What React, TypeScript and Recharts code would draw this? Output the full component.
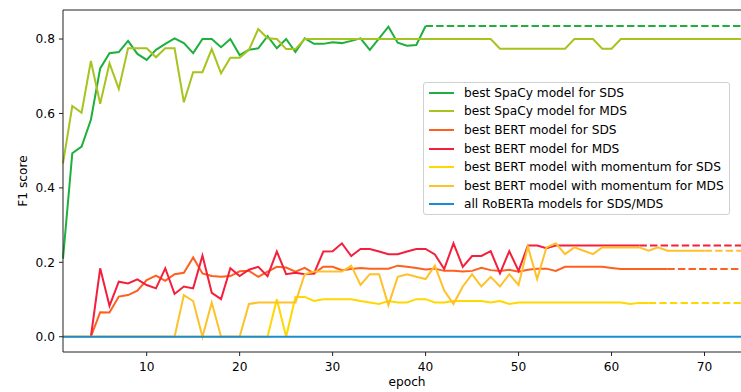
import { LineChart, Line, XAxis, YAxis, ReferenceLine, Legend, Label } from "recharts";

// epochs shown on the x axis (xlim 1..75, the figure is cropped on the right)
const epochs = Array.from({ length: 75 }, (_, i) => i + 1);
const xTicks = [10, 20, 30, 40, 50, 60, 70];
const yTicks = [0, 0.2, 0.4, 0.6, 0.8];

// F1 per epoch (index 0 = epoch 1)
const spacySds = [
  0.21, 0.493, 0.511, 0.583, 0.721, 0.762, 0.765, 0.795, 0.76, 0.744,
  0.771, 0.787, 0.802, 0.789, 0.762, 0.8, 0.8, 0.778, 0.8, 0.757,
  0.771, 0.775, 0.808, 0.775, 0.8, 0.765, 0.802, 0.787, 0.787, 0.791,
  0.789, 0.795, 0.802, 0.771, 0.802, 0.833, 0.79, 0.782, 0.784, 0.835,
];
const spacyMds = [
  0.466, 0.62, 0.602, 0.741, 0.626, 0.735, 0.666, 0.775, 0.775, 0.775,
  0.751, 0.775, 0.775, 0.63, 0.711, 0.711, 0.773, 0.708, 0.75, 0.75,
  0.771, 0.827, 0.802, 0.8, 0.773, 0.773, 0.8, 0.8, 0.8, 0.8,
  0.8, 0.8, 0.8, 0.8, 0.8, 0.8, 0.8, 0.8, 0.8, 0.8,
  0.8, 0.8, 0.8, 0.8, 0.8, 0.8, 0.8, 0.774, 0.774, 0.774,
  0.774, 0.774, 0.774, 0.774, 0.774, 0.8, 0.8, 0.8, 0.774, 0.774,
  0.8, 0.8, 0.8, 0.8, 0.8, 0.8, 0.8, 0.8, 0.8, 0.8,
  0.8, 0.8, 0.8, 0.8, 0.8,
];
const bertSds = [
  null, null, null, 0, 0.066, 0.065, 0.108, 0.112, 0.124, 0.152,
  0.164, 0.15, 0.168, 0.172, 0.213, 0.17, 0.163, 0.161, 0.163, 0.176,
  0.177, 0.161, 0.175, 0.188, 0.186, 0.175, 0.185, 0.17, 0.188, 0.188,
  0.179, 0.182, 0.185, 0.183, 0.183, 0.183, 0.191, 0.188, 0.185, 0.181,
  0.183, 0.177, 0.177, 0.175, 0.177, 0.185, 0.179, 0.177, 0.18, 0.175,
  0.18, 0.183, 0.183, 0.177, 0.188, 0.188, 0.188, 0.188, 0.188, 0.185,
  0.182, 0.182, 0.182, 0.182, 0.182, 0.182,
];
const bertMds = [
  null, null, null, 0, 0.184, 0.083, 0.148, 0.143, 0.154, 0.139,
  0.13, 0.184, 0.115, 0.135, 0.13, 0.218, 0.118, 0.101, 0.184, 0.163,
  0.18, 0.188, 0.163, 0.229, 0.168, 0.172, 0.168, 0.17, 0.229, 0.23,
  0.251, 0.217, 0.236, 0.236, 0.229, 0.222, 0.222, 0.229, 0.236, 0.236,
  0.221, 0.182, 0.251, 0.188, 0.217, 0.217, 0.23, 0.17, 0.23, 0.177,
  0.245, 0.245, 0.238, 0.245, 0.245, 0.245, 0.245, 0.245, 0.245, 0.245,
  0.245, 0.245, 0.245,
];
const momSds = [
  0, 0, 0, 0, 0, 0, 0, 0, 0, 0,
  0, 0, 0, 0, 0, 0, 0, 0, 0, 0,
  0, 0, 0, 0.101, 0, 0.107, 0.107, 0.096, 0.101, 0.101,
  0.101, 0.101, 0.096, 0.092, 0.088, 0.096, 0.092, 0.092, 0.101, 0.101,
  0.092, 0.092, 0.096, 0.096, 0.096, 0.096, 0.092, 0.096, 0.088, 0.092,
  0.092, 0.092, 0.092, 0.092, 0.092, 0.092, 0.092, 0.092, 0.092, 0.092,
  0.092, 0.088, 0.091, 0.091,
];
const momMds = [
  0, 0, 0, 0, 0, 0, 0, 0, 0, 0,
  0, 0, 0, 0.112, 0.096, 0, 0.092, 0, 0, 0,
  0.088, 0.092, 0.092, 0.092, 0.092, 0.092, 0.168, 0.175, 0.175, 0.175,
  0.175, 0.191, 0.139, 0.168, 0.168, 0.085, 0.161, 0.168, 0.161, 0.155,
  0.191, 0.124, 0.088, 0.135, 0.168, 0.135, 0.161, 0.135, 0.168, 0.139,
  0.242, 0.155, 0.24, 0.251, 0.222, 0.24, 0.231, 0.222, 0.24, 0.24,
  0.24, 0.24, 0.24, 0.231, 0.24, 0.231, 0.231, 0.231, 0.231, 0.231,
];
const roberta = [
  0, 0, 0, 0, 0, 0, 0, 0, 0, 0, 0, 0, 0, 0, 0, 0, 0, 0, 0, 0, 0, 0, 0, 0, 0,
  0, 0, 0, 0, 0, 0, 0, 0, 0, 0, 0, 0, 0, 0, 0, 0, 0, 0, 0, 0, 0, 0, 0, 0, 0,
  0, 0, 0, 0, 0, 0, 0, 0, 0, 0, 0, 0, 0, 0, 0, 0, 0, 0, 0, 0, 0, 0, 0, 0, 0,
];

const series = [
  { key: "spacySds", name: "best SpaCy model for SDS", color: "#1eaf3c", values: spacySds },
  { key: "spacyMds", name: "best SpaCy model for MDS", color: "#a6c41e", values: spacyMds },
  { key: "bertSds", name: "best BERT model for SDS", color: "#ff5f1f", values: bertSds },
  { key: "bertMds", name: "best BERT model for MDS", color: "#f41f3c", values: bertMds },
  { key: "momSds", name: "best BERT model with momentum for SDS", color: "#ffd800", values: momSds },
  { key: "momMds", name: "best BERT model with momentum for MDS", color: "#ffc12a", values: momMds },
  { key: "roberta", name: "all RoBERTa models for SDS/MDS", color: "#1a8cd6", values: roberta },
];

// one row per epoch; a run that stopped early is carried on as a dashed line
const rows = epochs.map((epoch, i) => {
  const row: any = { epoch };
  series.forEach((s) => {
    const last = s.values.length;
    row[s.key] = i < last ? s.values[i] : null;
    if (last < epochs.length) {
      row[s.key + "Ext"] = epoch >= last ? s.values[last - 1] : null;
    }
  });
  return row;
});

const FONT = "DejaVu Sans";
const FS = 12.2;

const renderLegend = () => (
  <div style={styles.legend}>
    {series.map((s) => (
      <div key={s.key} style={styles.legendRow}>
        <div style={{ width: 25, height: 2, background: s.color, marginLeft: 5, marginRight: 10 }} />
        <span>{s.name}</span>
      </div>
    ))}
  </div>
);

export default function App() {
  return (
    <div style={styles.frame}>
      <LineChart width={751} height={392} data={rows} margin={{ top: 10, right: 0, left: 0, bottom: 0 }}>
        <XAxis
          dataKey="epoch"
          type="number"
          domain={[1, 75]}
          ticks={xTicks}
          height={40}
          tickSize={4}
          tickMargin={6}
          stroke="#222"
          tick={{ fill: "#000", fontSize: FS, fontFamily: FONT }}
        >
          <Label
            content={({ viewBox }: any) => (
              <text
                x={viewBox.x + viewBox.width / 2}
                y={viewBox.y + 34}
                textAnchor="middle"
                fontSize={FS}
                fontFamily={FONT}
                fill="#000"
              >
                epoch
              </text>
            )}
          />
        </XAxis>
        <YAxis
          type="number"
          domain={[-0.041, 0.878]}
          ticks={yTicks}
          width={63}
          tickSize={4}
          tickMargin={4}
          stroke="#222"
          tickFormatter={(v: number) => v.toFixed(1)}
          tick={{ fill: "#000", fontSize: FS, fontFamily: FONT }}
        >
          <Label
            content={() => (
              <text
                x={23}
                y={181}
                transform="rotate(-90, 23, 181)"
                textAnchor="middle"
                dominantBaseline="central"
                fontSize={FS}
                fontFamily={FONT}
                fill="#000"
              >
                F1 score
              </text>
            )}
          />
        </YAxis>
        <ReferenceLine y={0.878} stroke="#222" ifOverflow="extendDomain" />
        {series.map((s) => [
          <Line
            key={s.key}
            dataKey={s.key}
            stroke={s.color}
            strokeWidth={2}
            dot={false}
            activeDot={false}
            type="linear"
            isAnimationActive={false}
          />,
          s.values.length < epochs.length ? (
            <Line
              key={s.key + "Ext"}
              dataKey={s.key + "Ext"}
              stroke={s.color}
              strokeWidth={2}
              strokeDasharray="7.4 3.2"
              dot={false}
              activeDot={false}
              type="linear"
              isAnimationActive={false}
            />
          ) : null,
        ])}
        <Legend
          layout="horizontal"
          verticalAlign="middle"
          align="center"
          content={renderLegend}
          wrapperStyle={{ left: 423, top: 82, width: 307, height: 133 }}
        />
      </LineChart>
    </div>
  );
}

const styles: any = {
  frame: {
    position: "fixed",
    left: 0,
    top: 0,
    width: 741,
    height: 392,
    overflow: "hidden",
    background: "#fff",
  },
  legend: {
    boxSizing: "border-box",
    width: 307,
    height: 133,
    paddingTop: 0.5,
    border: "1px solid #d0d0d0",
    borderRadius: 3,
    background: "rgba(255,255,255,0.8)",
    fontFamily: FONT,
    fontSize: FS,
    color: "#000",
  },
  legendRow: {
    display: "flex",
    alignItems: "center",
    height: 18.6,
    whiteSpace: "nowrap",
  },
};
